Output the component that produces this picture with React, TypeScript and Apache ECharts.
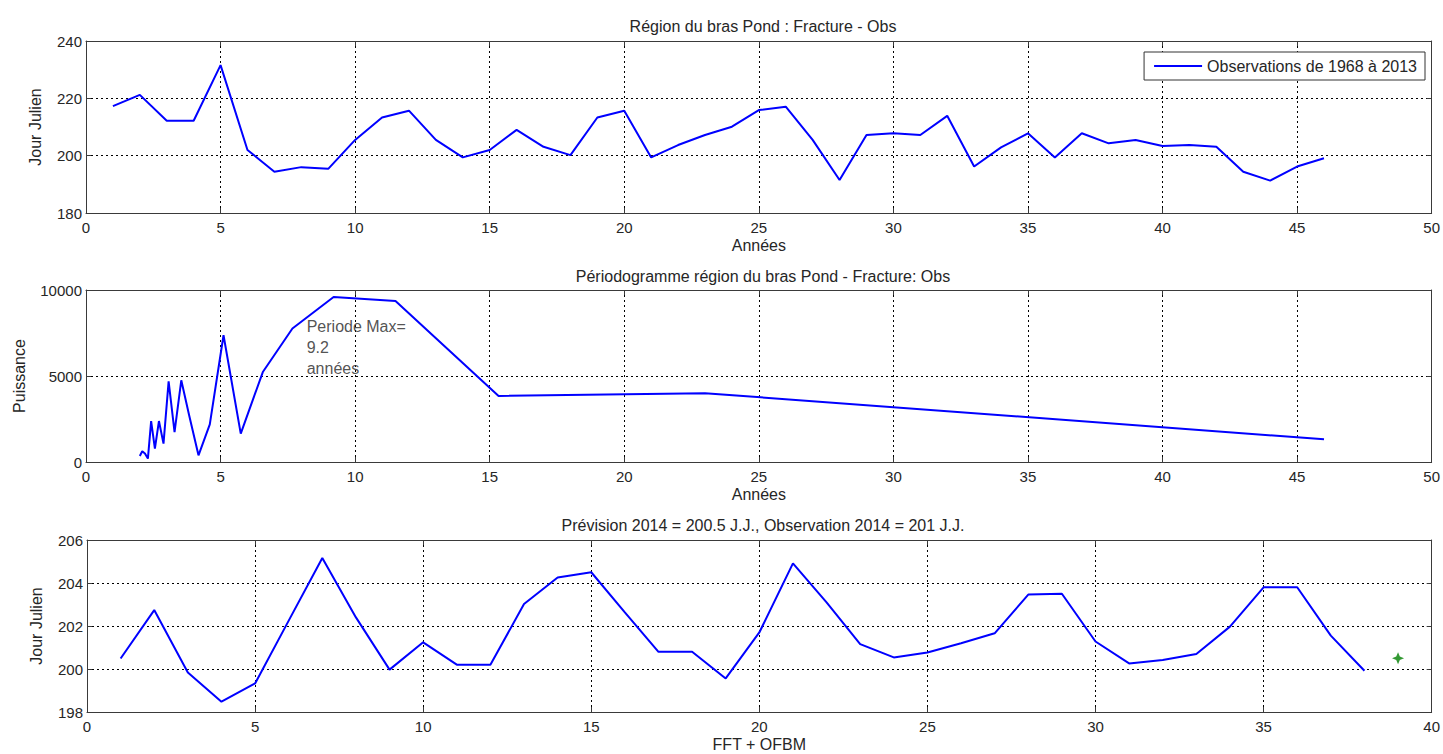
import React, { useEffect, useRef } from "react";
import * as echarts from "echarts";

// ---- Data ----
const obsYears = [1, 2, 3, 4, 5, 6, 7, 8, 9, 10, 11, 12, 13, 14, 15, 16, 17, 18, 19, 20, 21, 22, 23, 24, 25, 26, 27, 28, 29, 30, 31, 32, 33, 34, 35, 36, 37, 38, 39, 40, 41, 42, 43, 44, 45, 46];
const obsValues = [217.3, 221.2, 212.2, 212.2, 231.6, 202, 194.4, 196, 195.4, 205.5, 213.3, 215.7, 205.5, 199.4, 202, 209, 203.1, 200.2, 213.3, 215.7, 199.4, 203.7, 207.2, 210.1, 215.9, 217.1, 205.5, 191.5, 207.2, 207.8, 207.2, 213.9, 196.2, 202.9, 207.8, 199.4, 207.8, 204.3, 205.5, 203.4, 203.7, 203.1, 194.4, 191.3, 196.2, 199.1];

const periods = [2.0, 2.09, 2.19, 2.3, 2.42, 2.56, 2.71, 2.88, 3.07, 3.29, 3.54, 3.83, 4.18, 4.6, 5.11, 5.75, 6.57, 7.67, 9.2, 11.5, 15.33, 23, 46];
const power = [350, 620, 490, 200, 2380, 780, 2380, 1070, 4690, 1740, 4750, 2730, 390, 2190, 7370, 1650, 5230, 7760, 9590, 9360, 3840, 4000, 1320];

const fcSteps = [1, 2, 3, 4, 5, 6, 7, 8, 9, 10, 11, 12, 13, 14, 15, 16, 17, 18, 19, 20, 21, 22, 23, 24, 25, 26, 27, 28, 29, 30, 31, 32, 33, 34, 35, 36, 37, 38];
const fcValues = [200.49, 202.74, 199.84, 198.48, 199.33, 202.25, 205.16, 202.4, 199.97, 201.24, 200.2, 200.2, 203.02, 204.26, 204.5, 202.63, 200.8, 200.8, 199.56, 201.7, 204.91, 203.1, 201.16, 200.54, 200.77, 201.2, 201.66, 203.46, 203.5, 201.28, 200.26, 200.42, 200.7, 201.97, 203.8, 203.8, 201.55, 199.92];

const prediction = [39, 200.5];
const annotationPoint = [8.2, 6670];
const annotationText = "Periode Max=\n9.2\nannées";

const titles = [
  "Région du bras Pond : Fracture - Obs",
  "Périodogramme région du bras Pond - Fracture: Obs",
  "Prévision 2014 = 200.5 J.J., Observation 2014 = 201 J.J.",
];
const legendLabel = "Observations de 1968 à 2013";

const FONT = "'Liberation Sans', Arial, sans-serif";
const AXIS_COLOR = "#3a3a3a";
const TEXT_COLOR = "#262626";

const grids = [
  { left: 86, top: 41, width: 1347, height: 172 },
  { left: 86, top: 290, width: 1347, height: 172 },
  { left: 87, top: 540, width: 1346, height: 172 },
];

function mainX(gridIndex: number, max: number, name: string) {
  return {
    type: "value",
    gridIndex,
    min: 0,
    max,
    interval: 5,
    position: "bottom",
    name,
    nameLocation: "middle",
    nameGap: 24,
    nameTextStyle: { fontFamily: FONT, fontSize: 16, color: TEXT_COLOR },
    axisLine: { show: true, onZero: false, lineStyle: { color: AXIS_COLOR, width: 1 } },
    axisTick: { show: true, inside: true, length: 5, lineStyle: { color: AXIS_COLOR } },
    axisLabel: { fontFamily: FONT, fontSize: 15, color: TEXT_COLOR, margin: 7 },
    splitLine: { show: true, lineStyle: { color: "#000", type: [2, 3], width: 1 } },
  };
}
function topX(gridIndex: number, max: number) {
  return {
    type: "value",
    gridIndex,
    min: 0,
    max,
    interval: 5,
    position: "top",
    axisLine: { show: true, onZero: false, lineStyle: { color: AXIS_COLOR, width: 1 } },
    axisTick: { show: true, inside: true, length: 5, lineStyle: { color: AXIS_COLOR } },
    axisLabel: { show: false },
    splitLine: { show: false },
  };
}
function mainY(gridIndex: number, min: number, max: number, interval: number, name: string, nameGap: number) {
  return {
    type: "value",
    gridIndex,
    min,
    max,
    interval,
    position: "left",
    name,
    nameLocation: "middle",
    nameRotate: 90,
    nameGap,
    nameTextStyle: { fontFamily: FONT, fontSize: 16, color: TEXT_COLOR },
    axisLine: { show: true, onZero: false, lineStyle: { color: AXIS_COLOR, width: 1 } },
    axisTick: { show: true, inside: true, length: 5, lineStyle: { color: AXIS_COLOR } },
    axisLabel: { fontFamily: FONT, fontSize: 15, color: TEXT_COLOR, margin: 4, formatter: (v: number) => String(v) },
    splitLine: { show: true, lineStyle: { color: "#000", type: [2, 3], width: 1 } },
  };
}
function rightY(gridIndex: number, min: number, max: number, interval: number) {
  return {
    type: "value",
    gridIndex,
    min,
    max,
    interval,
    position: "right",
    axisLine: { show: true, onZero: false, lineStyle: { color: AXIS_COLOR, width: 1 } },
    axisTick: { show: true, inside: true, length: 5, lineStyle: { color: AXIS_COLOR } },
    axisLabel: { show: false },
    splitLine: { show: false },
  };
}

export default function App() {
  const ref = useRef<HTMLDivElement>(null);
  useEffect(() => {
    if (!ref.current) return;
    const chart = echarts.init(ref.current, null, { renderer: "svg" });
    const titleCenter = 758;
    const titleStyle = { fontFamily: FONT, fontSize: 16, fontWeight: "normal", color: TEXT_COLOR };
    const option = {
      animation: false,
      backgroundColor: "#ffffff",
      title: [
        { text: titles[0], left: titleCenter, top: 13, textAlign: "center", textStyle: titleStyle },
        { text: titles[1], left: titleCenter, top: 263, textAlign: "center", textStyle: titleStyle },
        { text: titles[2], left: titleCenter, top: 512, textAlign: "center", textStyle: titleStyle },
      ],
      legend: {
        show: true,
        data: [{ name: legendLabel, icon: "rect" }],
        right: 18,
        top: 52,
        orient: "horizontal",
        borderColor: "#333",
        borderWidth: 1,
        borderRadius: 0,
        padding: [6, 8, 6, 10],
        itemWidth: 48,
        itemHeight: 2,
        itemGap: 8,
        textStyle: { fontFamily: FONT, fontSize: 16, color: TEXT_COLOR, padding: [1, 0, 0, 0] },
        backgroundColor: "#fff",
      },
      grid: grids.map((g) => ({ ...g, containLabel: false })),
      xAxis: [mainX(0, 50, "Années"), topX(0, 50), mainX(1, 50, "Années"), topX(1, 50), mainX(2, 40, "FFT + OFBM"), topX(2, 40)],
      yAxis: [
        mainY(0, 180, 240, 20, "Jour Julien", 43),
        rightY(0, 180, 240, 20),
        mainY(1, 0, 10000, 5000, "Puissance", 59),
        rightY(1, 0, 10000, 5000),
        mainY(2, 198, 206, 2, "Jour Julien", 43),
        rightY(2, 198, 206, 2),
      ],
      series: [
        {
          name: legendLabel,
          type: "line",
          xAxisIndex: 0,
          yAxisIndex: 0,
          data: obsYears.map((x, i) => [x, obsValues[i]]),
          symbol: "none",
          lineStyle: { color: "#0000ff", width: 2 },
          itemStyle: { color: "#0000ff" },
        },
        {
          name: "periodogram",
          type: "line",
          xAxisIndex: 2,
          yAxisIndex: 2,
          data: periods.map((x, i) => [x, power[i]]),
          symbol: "none",
          lineStyle: { color: "#0000ff", width: 2 },
        },
        {
          name: "annotation",
          type: "scatter",
          xAxisIndex: 2,
          yAxisIndex: 2,
          data: [annotationPoint],
          symbolSize: 0,
          silent: true,
          label: {
            show: true,
            position: "right",
            distance: 0,
            formatter: annotationText,
            fontFamily: FONT,
            fontSize: 16,
            lineHeight: 21,
            color: TEXT_COLOR,
            align: "left",
          },
        },
        {
          name: "forecast",
          type: "line",
          xAxisIndex: 4,
          yAxisIndex: 4,
          data: fcSteps.map((x, i) => [x, fcValues[i]]),
          symbol: "none",
          lineStyle: { color: "#0000ff", width: 2 },
        },
        {
          name: "prediction",
          type: "scatter",
          xAxisIndex: 4,
          yAxisIndex: 4,
          data: [prediction],
          symbol: "path://M5,0 L6.5,3.5 L10,5 L6.5,6.5 L5,10 L3.5,6.5 L0,5 L3.5,3.5 Z",
          symbolSize: 12,
          itemStyle: { color: "#008000" },
        },
      ],
    };
    chart.setOption(option as any);
    return () => chart.dispose();
  }, []);
  return (
    <div
      ref={ref}
      style={{ position: "fixed", left: 0, top: 0, width: "1443px", height: "754px", background: "#fff" }}
    />
  );
}
